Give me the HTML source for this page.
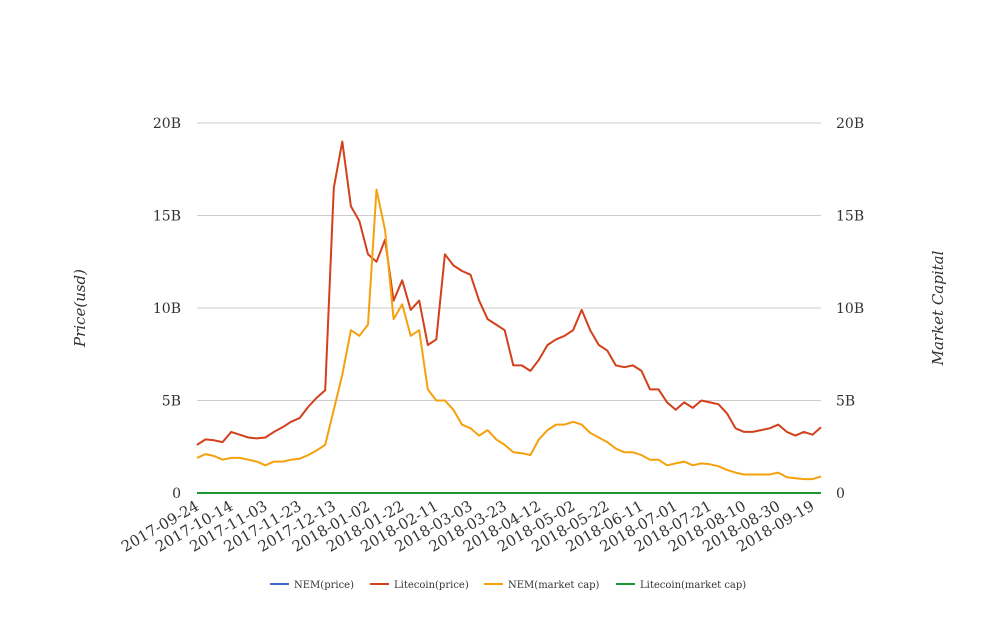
<!DOCTYPE html>
<html><head><meta charset="utf-8"><style>
body{margin:0;background:#fff;}
svg text{font-family:"DejaVu Serif","Liberation Serif",serif;fill:#333;}
</style></head><body>
<svg width="1008" height="616" xmlns="http://www.w3.org/2000/svg">
<g id="grid"></g>
<g id="series"></g>
<g id="axes"></g>
<text transform="translate(85,308) rotate(-90)" text-anchor="middle" font-style="italic" font-size="15">Price(usd)</text>
<text transform="translate(943,308) rotate(-90)" text-anchor="middle" font-style="italic" font-size="15">Market Capital</text>
<g id="legend" font-size="10"></g>
</svg>
<script>
const dayStep = 5;
const startDate = "2017-09-24";
const yTicks = [0, 5, 10, 15, 20];
const yTickLabels = ["0", "5B", "10B", "15B", "20B"];
const litecoinPrice = [2.6,2.9,2.85,2.75,3.3,3.15,3.0,2.95,3.0,3.3,3.55,3.85,4.05,4.65,5.15,5.55,16.5,19.0,15.5,14.7,12.9,12.5,13.7,10.4,11.5,9.9,10.4,8.0,8.3,12.9,12.3,12.0,11.8,10.4,9.4,9.1,8.8,6.9,6.9,6.6,7.2,8.0,8.3,8.5,8.8,9.9,8.8,8.0,7.7,6.9,6.8,6.9,6.6,5.6,5.6,4.9,4.5,4.9,4.6,5.0,4.9,4.8,4.3,3.5,3.3,3.3,3.4,3.5,3.7,3.3,3.1,3.3,3.15,3.55];
const nemMarketCap = [1.9,2.1,2.0,1.8,1.9,1.9,1.8,1.7,1.5,1.7,1.7,1.8,1.85,2.05,2.3,2.6,4.5,6.4,8.8,8.5,9.1,16.4,14.2,9.4,10.2,8.5,8.8,5.6,5.0,5.0,4.5,3.7,3.5,3.1,3.4,2.9,2.6,2.2,2.15,2.05,2.9,3.4,3.7,3.7,3.85,3.7,3.25,3.0,2.75,2.4,2.2,2.2,2.05,1.8,1.8,1.5,1.6,1.7,1.5,1.6,1.55,1.45,1.25,1.1,1.0,1.0,1.0,1.0,1.1,0.85,0.8,0.75,0.75,0.9];
const nemPrice = litecoinPrice.map(()=>0);
const litecoinMarketCap = litecoinPrice.map(()=>0.0);
const xTickLabels = ["2017-09-24","2017-10-14","2017-11-03","2017-11-23","2017-12-13","2018-01-02","2018-01-22","2018-02-11","2018-03-03","2018-03-23","2018-04-12","2018-05-02","2018-05-22","2018-06-11","2018-07-01","2018-07-21","2018-08-10","2018-08-30","2018-09-19"];
const seriesNames = ["NEM(price)","Litecoin(price)","NEM(market cap)","Litecoin(market cap)"];
const seriesColors = ["#3a6fc4","#d2401c","#f5a10e","#1e9632"];

const NS="http://www.w3.org/2000/svg";
const X0=197, X1=821, Y0=493, Y1=123, DAYS=365;
function xDay(d){return X0+(X1-X0)*d/DAYS;}
function yVal(v){return Y0-(Y0-Y1)*v/20;}
function mk(tag,attrs,parent){const e=document.createElementNS(NS,tag);for(const k in attrs)e.setAttribute(k,attrs[k]);parent.appendChild(e);return e;}
const grid=document.getElementById('grid'), axes=document.getElementById('axes'), ser=document.getElementById('series'), leg=document.getElementById('legend');
yTicks.forEach((t,i)=>{
  const y=yVal(t);
  if(t>0){const l=mk('line',{x1:X0,x2:X1,y1:y,y2:y,stroke:'#cccccc','stroke-width':1},grid);
  
  }
  const a=mk('text',{x:181,y:y+5,'text-anchor':'end','font-size':14},axes);a.textContent=yTickLabels[i];
  
  
  const b=mk('text',{x:836,y:y+5,'text-anchor':'start','font-size':14},axes);b.textContent=yTickLabels[i];
  
  
});
xTickLabels.forEach((lab,i)=>{
  const x=xDay(i*20);
  const t=mk('text',{transform:`translate(${x+3},${509}) rotate(-30)`,'text-anchor':'end','font-size':15},axes);t.textContent=lab;
  
  
});
function line(vals,color,name,w){
  const pts=vals.map((v,i)=>xDay(i*dayStep).toFixed(1)+','+yVal(v).toFixed(1)).join(' ');
  const p=mk('polyline',{points:pts,fill:'none',stroke:color,'stroke-width':w,'stroke-linejoin':'round'},ser);
  
  
}
line(nemPrice,seriesColors[0],'nem-price-line',2);
line(litecoinPrice,seriesColors[1],'litecoin-price-line',2);
line(nemMarketCap,seriesColors[2],'nem-market-cap-line',2);
line(litecoinMarketCap,seriesColors[3],'litecoin-market-cap-line',2);
const legX=[270,370,484,616];
seriesNames.forEach((n,i)=>{
  const g=mk('g',{},leg);
  
  
  mk('line',{x1:legX[i],x2:legX[i]+19,y1:584,y2:584,stroke:seriesColors[i],'stroke-width':2},g);
  const t=mk('text',{x:legX[i]+24,y:588,'font-size':10},g);t.textContent=n;
});
</script>
</body></html>
